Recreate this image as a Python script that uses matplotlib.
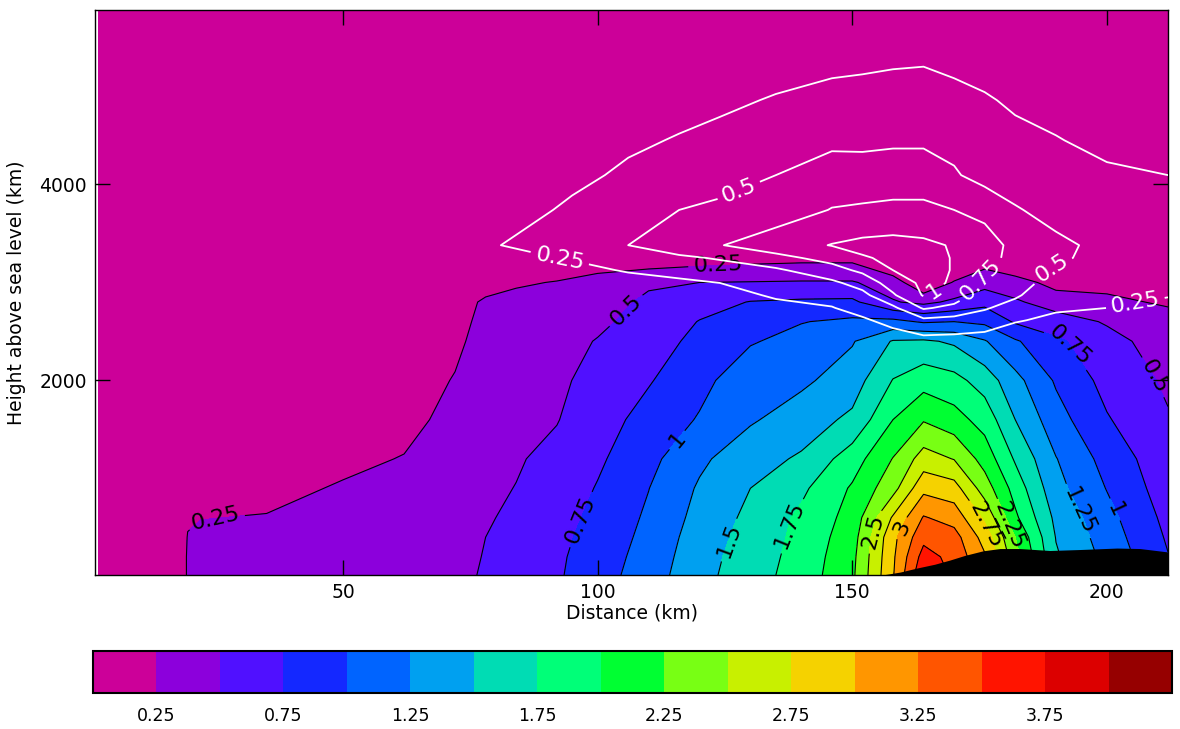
import numpy as np
import matplotlib
matplotlib.use("Agg")
import matplotlib.pyplot as plt
from matplotlib.colors import ListedColormap, BoundaryNorm

# ---------------- data ----------------
# coloured field: grid columns (distance, km) and rows (height, m)
dist_km = [2, 18, 19.5, 22, 35, 50, 62, 72, 78, 84, 92, 100, 110, 120, 130,
           140, 150, 158, 164, 170, 176, 182, 190, 200, 212]
height_m = [15, 200, 400, 600, 900, 1200, 1600, 2000, 2400, 2600, 2800,
            3000, 3200, 3400, 5780]
# one list per distance column, bottom -> top
field_columns = [
    [0, 0, 0, 0, 0, 0, 0, 0, 0, 0, 0, 0, 0, 0, 0],
    [0, 0, 0, 0, 0, 0, 0, 0, 0, 0, 0, 0, 0, 0, 0],
    [0.30, 0.30, 0.27, 0.20, 0.10, 0.05, 0, 0, 0, 0, 0, 0, 0, 0, 0],
    [0.33, 0.32, 0.29, 0.245, 0.15, 0.08, 0.02, 0, 0, 0, 0, 0, 0, 0, 0],
    [0.36, 0.34, 0.31, 0.26, 0.19, 0.12, 0.05, 0, 0, 0, 0, 0, 0, 0, 0],
    [0.40, 0.38, 0.35, 0.32, 0.27, 0.20, 0.10, 0.03, 0, 0, 0, 0, 0, 0, 0],
    [0.42, 0.41, 0.39, 0.36, 0.31, 0.26, 0.18, 0.08, 0.02, 0, 0, 0, 0, 0, 0],
    [0.45, 0.44, 0.43, 0.42, 0.40, 0.37, 0.32, 0.27, 0.18, 0.12, 0.05, 0, 0, 0, 0],
    [0.52, 0.51, 0.50, 0.48, 0.46, 0.44, 0.42, 0.40, 0.38, 0.36, 0.32, 0.05, 0, 0, 0],
    [0.60, 0.58, 0.56, 0.54, 0.505, 0.48, 0.46, 0.44, 0.42, 0.40, 0.37, 0.20, 0, 0, 0],
    [0.72, 0.71, 0.69, 0.66, 0.61, 0.56, 0.49, 0.46, 0.43, 0.41, 0.38, 0.27, 0, 0, 0],
    [0.89, 0.87, 0.84, 0.81, 0.765, 0.71, 0.64, 0.57, 0.51, 0.46, 0.41, 0.31, 0.18, 0, 0],
    [1.13, 1.10, 1.07, 1.04, 0.995, 0.93, 0.84, 0.73, 0.63, 0.58, 0.54, 0.47, 0.15, 0, 0],
    [1.42, 1.40, 1.37, 1.33, 1.28, 1.20, 1.02, 0.93, 0.82, 0.76, 0.65, 0.50, 0.20, 0, 0],
    [1.64, 1.62, 1.59, 1.56, 1.50, 1.41, 1.22, 1.15, 0.98, 0.90, 0.76, 0.51, 0.23, 0, 0],
    [1.86, 1.84, 1.82, 1.80, 1.70, 1.53, 1.38, 1.20, 1.08, 0.99, 0.79, 0.52, 0.25, 0, 0],
    [2.20, 2.18, 2.14, 2.09, 2.03, 1.88, 1.55, 1.38, 1.23, 1.05, 0.80, 0.52, 0.25, 0, 0],
    [2.98, 2.96, 2.93, 2.78, 2.41, 2.26, 2.00, 1.76, 1.52, 1.07, 0.52, 0.38, 0, 0, 0],
    [3.72, 3.60, 3.43, 3.27, 2.93, 2.61, 2.23, 1.90, 1.54, 0.97, 0.44, 0.02, 0, 0, 0],
    [3.45, 3.42, 3.35, 3.15, 2.85, 2.49, 2.10, 1.83, 1.46, 1.00, 0.55, 0.27, 0, 0, 0],
    [3.05, 3.03, 2.90, 2.70, 2.38, 2.15, 1.90, 1.64, 1.27, 0.95, 0.68, 0.40, 0.18, 0, 0],
    [2.40, 2.35, 2.25, 2.05, 1.90, 1.72, 1.50, 1.33, 1.03, 0.72, 0.53, 0.37, 0, 0, 0],
    [1.60, 1.53, 1.49, 1.44, 1.33, 1.26, 1.10, 0.97, 0.80, 0.60, 0.40, 0.15, 0, 0, 0],
    [1.20, 1.18, 1.13, 1.08, 0.99, 0.91, 0.77, 0.67, 0.57, 0.48, 0.30, 0.18, 0, 0, 0],
    [0.78, 0.76, 0.72, 0.68, 0.62, 0.58, 0.52, 0.46, 0.40, 0.34, 0.22, 0.10, 0, 0, 0],
]

# white-contoured field
wdist_km = [2, 70, 80, 95, 106, 116, 124, 135, 146, 152, 158, 164, 170, 176,
            182, 190, 200, 212]
wheight_m = [15, 2360, 2615, 2740, 2870, 2995, 3125, 3250, 3380, 3740, 4095,
             4450, 4860, 5270, 5780]
white_columns = [
    [0, 0, 0, 0, 0, 0, 0, 0, 0, 0, 0, 0, 0, 0, 0],
    [0, 0, 0, 0, 0, 0, 0, 0, 0, 0, 0, 0, 0, 0, 0],
    [0, 0, 0, 0.01, 0.03, 0.07, 0.12, 0.17, 0.24, 0.10, 0.03, 0, 0, 0, 0],
    [0, 0, 0, 0.02, 0.05, 0.10, 0.18, 0.27, 0.39, 0.30, 0.18, 0.10, 0.03, 0, 0],
    [0, 0, 0.02, 0.04, 0.09, 0.16, 0.27, 0.40, 0.50, 0.40, 0.30, 0.20, 0.10, 0.03, 0],
    [0, 0, 0.03, 0.06, 0.12, 0.20, 0.34, 0.46, 0.63, 0.50, 0.38, 0.27, 0.15, 0.06, 0],
    [0, 0.01, 0.05, 0.09, 0.16, 0.25, 0.40, 0.52, 0.74, 0.53, 0.44, 0.32, 0.20, 0.09, 0],
    [0, 0.02, 0.10, 0.18, 0.28, 0.34, 0.46, 0.68, 0.88, 0.62, 0.50, 0.38, 0.27, 0.14, 0],
    [0, 0.03, 0.14, 0.24, 0.33, 0.45, 0.66, 0.83, 1.01, 0.76, 0.61, 0.45, 0.31, 0.20, 0.02],
    [0, 0.05, 0.22, 0.33, 0.43, 0.60, 0.80, 0.98, 1.06, 0.78, 0.62, 0.44, 0.34, 0.20, 0.03],
    [0, 0.10, 0.32, 0.45, 0.72, 0.86, 1.00, 1.04, 1.08, 0.80, 0.63, 0.46, 0.35, 0.22, 0.04],
    [0, 0.12, 0.45, 0.78, 1.02, 1.05, 1.06, 1.06, 1.05, 0.80, 0.63, 0.46, 0.35, 0.23, 0.05],
    [0, 0.12, 0.42, 0.68, 0.90, 0.98, 0.99, 0.99, 0.98, 0.75, 0.53, 0.42, 0.31, 0.20, 0.05],
    [0, 0.08, 0.40, 0.52, 0.62, 0.70, 0.77, 0.82, 0.83, 0.70, 0.40, 0.35, 0.27, 0.17, 0.04],
    [0, 0.06, 0.27, 0.42, 0.53, 0.60, 0.66, 0.69, 0.70, 0.52, 0.38, 0.30, 0.22, 0.13, 0.03],
    [0, 0.04, 0.20, 0.28, 0.34, 0.40, 0.47, 0.54, 0.55, 0.42, 0.34, 0.26, 0.18, 0.10, 0.02],
    [0, 0.04, 0.18, 0.25, 0.30, 0.34, 0.38, 0.42, 0.44, 0.35, 0.28, 0.20, 0.13, 0.07, 0.01],
    [0, 0.03, 0.14, 0.20, 0.26, 0.30, 0.33, 0.35, 0.36, 0.31, 0.25, 0.18, 0.11, 0.05, 0.01],
]

# terrain (black)
terrain_km = [154.1, 159.4, 162.7, 166.2, 169.2, 172.1, 175.7, 179.0, 182.9,
              188.8, 194.7, 202.0, 206.5, 212.0]
terrain_m = [0, 45, 86, 125, 168, 215, 262, 285, 285, 265, 275, 290, 285, 250]

levels = [0.0, 0.25, 0.5, 0.75, 1.0, 1.25, 1.5, 1.75, 2.0, 2.25, 2.5, 2.75,
          3.0, 3.25, 3.5, 3.75, 4.0, 4.25]
white_levels = [0.25, 0.5, 0.75, 1.0]
colors = ["#CC0099", "#8C00DC", "#5010FF", "#1428FF", "#0064FF", "#00A0F0",
          "#00DCB4", "#00FF78", "#00FF32", "#78FF14", "#C8F000", "#F5D200",
          "#FF9600", "#FF5500", "#FF1400", "#DC0000", "#960000"]
cbar_ticks = [0.25, 0.75, 1.25, 1.75, 2.25, 2.75, 3.25, 3.75]

# contour labels: (level, distance km, height m)
black_labels = [(0.25, 24.9, 607), (0.5, 103.4, 2820), (0.25, 123.6, 3208),
                (0.75, 94.6, 627), (1.0, 115.6, 1392), (1.5, 123.0, 423),
                (1.75, 137.8, 525), (2.5, 151.1, 505), (3.0, 156.4, 576),
                (2.75, 178.4, 576), (2.25, 183.3, 576), (1.25, 196.7, 729),
                (1.0, 203.5, 729), (0.75, 192.8, 2361), (0.5, 209.8, 2055)]
white_labels = [(0.25, 92.6, 3259), (0.5, 127.8, 3927), (1.0, 166.8, 2851),
                (0.75, 176.1, 2993), (0.5, 189.4, 3126), (0.25, 205.5, 2820)]

# ---------------- plot ----------------
C = np.array(field_columns, dtype=float).T
W = np.array(white_columns, dtype=float).T
X, Y = np.meshgrid(dist_km, height_m)
WX, WY = np.meshgrid(wdist_km, wheight_m)

cmap = ListedColormap(colors)
norm = BoundaryNorm(levels, cmap.N)

fig = plt.figure(figsize=(11.8, 7.29), dpi=100)
ax = fig.add_axes([95 / 1180, 154 / 729, 1073 / 1180, 565 / 729])

cf = ax.contourf(X, Y, C, levels=levels, cmap=cmap, norm=norm, zorder=1)
fmt = lambda v: "%g" % v


def draw_level_lines(xg, yg, zg, lev_list, labels, color, lw, z):
    for lev in lev_list:
        cs = ax.contour(xg, yg, zg, levels=[lev], colors=color,
                        linewidths=lw, zorder=z)
        pos = [(lx, ly) for (lv, lx, ly) in labels if lv == lev]
        if pos and len(cs.allsegs[0]) > 0:
            ax.clabel(cs, manual=pos, inline=True, fontsize=16, fmt=fmt,
                      colors=color)


draw_level_lines(X, Y, C, levels[1:-1], black_labels, "black", 0.8, 2)
ax.fill_between(terrain_km, 0, terrain_m, color="black", zorder=3, lw=0)
draw_level_lines(WX, WY, W, white_levels, white_labels, "white", 1.3, 4)

ax.set_xlim(1.3, 212)
ax.set_ylim(15, 5780)
ax.set_xticks([50, 100, 150, 200])
ax.set_yticks([2000, 4000])
ax.tick_params(direction="in", length=11, width=1, top=True, right=True,
               labelsize=13.5, pad=6)
ax.set_xlabel("Distance (km)", fontsize=13.5, labelpad=1)
ax.set_ylabel("Height above sea level (km)", fontsize=13.5)
ax.yaxis.set_label_coords(-0.064, 0.5)
for s in ax.spines.values():
    s.set_linewidth(1.0)

cax = fig.add_axes([93 / 1180, 36 / 729, 1079 / 1180, 42 / 729])
cb = fig.colorbar(cf, cax=cax, orientation="horizontal")
cb.minorticks_off()
cb.set_ticks(cbar_ticks)
cb.set_ticklabels([fmt(t) for t in cbar_ticks])
cax.tick_params(which="both", length=0, labelsize=12.5, pad=10)
cb.outline.set_linewidth(1.5)

fig.savefig("out.png", dpi=100)
